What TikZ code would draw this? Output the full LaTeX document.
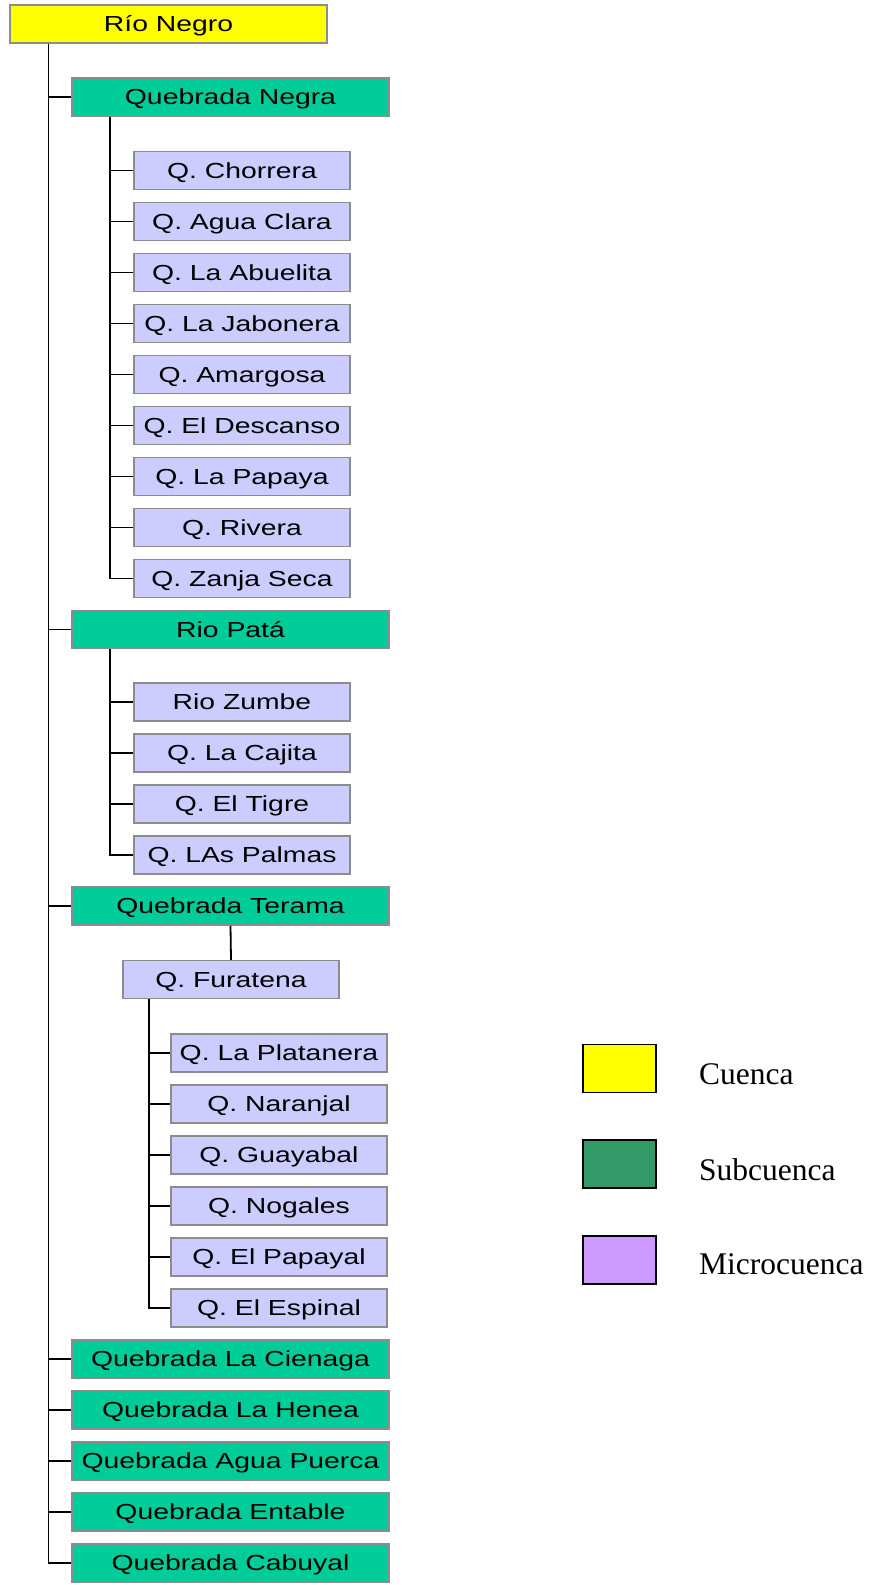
\documentclass[tikz,border=0pt]{standalone}
\usepackage{fontspec}
\newfontfamily\boxfont{Liberation Sans}[FakeStretch=1.3]
\newfontfamily\legfont{Liberation Serif}
\definecolor{cuenca}{HTML}{FFFF00}
\definecolor{subc}{HTML}{00CC99}
\definecolor{micro}{HTML}{CCCCFF}
\definecolor{legsub}{HTML}{339966}
\definecolor{legmic}{HTML}{CC99FF}
\definecolor{bord}{HTML}{8C8C8C}
\begin{document}
\begin{tikzpicture}[x=1pt,y=-1pt,
  base/.style={draw=bord,line width=1.5pt,inner sep=0pt,minimum height=38pt,
    text height=15.6pt,text depth=0pt,
    font=\boxfont\fontsize{21.8}{24}\selectfont,anchor=center},
  cbox/.style={base,fill=cuenca,minimum width=317pt},
  sbox/.style={base,fill=subc,minimum width=317pt},
  mbox/.style={base,fill=micro,minimum width=216pt},
  link/.style={line width=1.8pt,black},
  legbox/.style={draw=black,line width=1.5pt,minimum width=73pt,minimum height=48pt,inner sep=0pt},
  legtext/.style={font=\legfont\fontsize{31.5}{34}\selectfont,anchor=west,inner sep=0pt}]
\useasboundingbox (0,0) rectangle (875,1585);
% trunk x positions
\coordinate (t0) at (48.5,0);
\coordinate (t1) at (110,0);
\coordinate (t2) at (149,0);
% root
\node[cbox] (rn) at (168.5,24) {Río Negro};
% Quebrada Negra
\node[sbox] (qn) at (230.5,97) {Quebrada Negra};
\node[mbox] (m1) at (242,170.5) {Q. Chorrera};
\node[mbox] (m2) at (242,221.5) {Q. Agua Clara};
\node[mbox] (m3) at (242,272.5) {Q. La Abuelita};
\node[mbox] (m4) at (242,323.5) {Q. La Jabonera};
\node[mbox] (m5) at (242,374.5) {Q. Amargosa};
\node[mbox] (m6) at (242,425.5) {Q. El Descanso};
\node[mbox] (m7) at (242,476.5) {Q. La Papaya};
\node[mbox] (m8) at (242,527.5) {Q. Rivera};
\node[mbox] (m9) at (242,578.5) {Q. Zanja Seca};
% Rio Pata
\node[sbox] (rp) at (230.5,629.5) {Rio Patá};
\node[mbox] (p1) at (242,702) {Rio Zumbe};
\node[mbox] (p2) at (242,753) {Q. La Cajita};
\node[mbox] (p3) at (242,804) {Q. El Tigre};
\node[mbox] (p4) at (242,855) {Q. LAs Palmas};
% Terama
\node[sbox] (qt) at (230.5,906) {Quebrada Terama};
\node[mbox] (fu) at (231,979.5) {Q. Furatena};
\node[mbox] (f1) at (279,1053) {Q. La Platanera};
\node[mbox] (f2) at (279,1104) {Q. Naranjal};
\node[mbox] (f3) at (279,1155) {Q. Guayabal};
\node[mbox] (f4) at (279,1206) {Q. Nogales};
\node[mbox] (f5) at (279,1257) {Q. El Papayal};
\node[mbox] (f6) at (279,1308) {Q. El Espinal};
% other subcuencas
\node[sbox] (s5) at (230.5,1359) {Quebrada La Cienaga};
\node[sbox] (s6) at (230.5,1410) {Quebrada La Henea};
\node[sbox] (s7) at (230.5,1461) {Quebrada Agua Puerca};
\node[sbox] (s8) at (230.5,1512) {Quebrada Entable};
\node[sbox] (s9) at (230.5,1563) {Quebrada Cabuyal};
% connectors
\foreach \c in {qn,rp,qt,s5,s6,s7,s8,s9}
  \draw[link] (rn.south -| t0) |- (\c.west);
\foreach \c in {m1,m2,m3,m4,m5,m6,m7,m8,m9}
  \draw[link] (qn.south -| t1) |- (\c.west);
\foreach \c in {p1,p2,p3,p4}
  \draw[link] (rp.south -| t1) |- (\c.west);
\draw[link] (qt.south) -- (fu.north);
\foreach \c in {f1,f2,f3,f4,f5,f6}
  \draw[link] (fu.south -| t2) |- (\c.west);
% legend
\node[legbox,fill=cuenca] (l1) at (619.5,1068.5) {};
\node[legbox,fill=legsub] (l2) at (619.5,1164) {};
\node[legbox,fill=legmic] (l3) at (619.5,1260) {};
\node[legtext] (lt1) at (699,1074) {Cuenca};
\node[legtext] (lt2) at (699,1170) {Subcuenca};
\node[legtext] (lt3) at (699,1264) {Microcuenca};
\end{tikzpicture}
\end{document}
